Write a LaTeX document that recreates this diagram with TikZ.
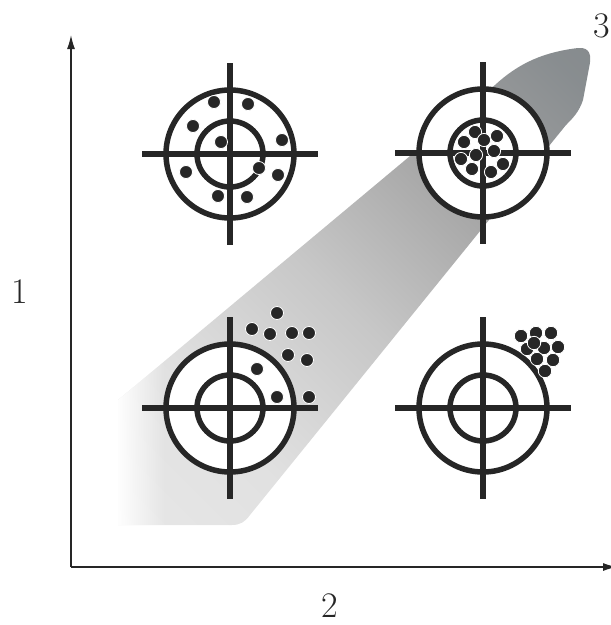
\documentclass[tikz,border=0pt]{standalone}
\usetikzlibrary{arrows.meta,fadings,calc}
\definecolor{ink}{HTML}{262626}
\definecolor{banddark}{HTML}{7E8386}
\pgfdeclarehorizontalshading{bandshade}{100bp}{color(0bp)=(white!93!black); color(30bp)=(white!88!black); color(48bp)=(white!78!black); color(66bp)=(white!64!black); color(82bp)=(banddark!92!white); color(100bp)=(banddark)}
\tikzset{
  ring/.style={draw=ink, line width=5.5pt},
  hair/.style={draw=ink, line width=5.5pt},
  shot/.style={fill=ink, draw=white, line width=0.8pt},
  axis/.style={draw=ink, line width=1.3pt},
  lbl/.style={font=\fontsize{36}{40}\selectfont, text=ink, inner sep=0pt}
}
\newcommand{\target}[2]{%
  \fill[white] (#1,#2) circle (64);
  \draw[ring] (#1,#2) circle (64);
  \draw[ring] (#1,#2) circle (33);
  \draw[hair] ($(#1,#2)+(-88,0)$) -- ($(#1,#2)+(88,0)$);
  \draw[hair] ($(#1,#2)+(0,-91)$) -- ($(#1,#2)+(0,91)$);
}
\begin{document}
\begin{tikzpicture}[x=1pt,y=-1pt]
\useasboundingbox (0,0) rectangle (611,625);
% band
\path[shading=bandshade, shading angle=45]
 (118,400) -- (495,85) .. controls (520,62) and (545,52) .. (578,48)
 .. controls (590,47) and (592,55) .. (589,68) -- (583,100)
 .. controls (579,112) and (573,118) .. (566,125) -- (250,515)
 .. controls (245,522) and (240,525) .. (232,525) -- (118,525) -- cycle;
\begin{scope}
\clip (118,400) -- (495,85) -- (566,125) -- (250,515) -- (232,525) -- (118,525) -- cycle;
\fill[white, path fading=east] (116,340) rectangle (165,530);
\end{scope}
% axes
\coordinate (o) at (71,567);
\coordinate (ytip) at (71,35);
\coordinate (xtip) at (617,567);
\draw[axis, -{Latex[length=14pt,width=8pt]}] (o) -- (ytip);
\draw[axis, -{Latex[length=14pt,width=8pt]}] (o) -- (xtip);
% targets
\target{230}{154}
\target{483}{153}
\target{230}{408}
\target{483}{408}
% shots target 1
\foreach \p in {(214,102),(248,104),(193,126),(282,140),(221,142),(259,168),(186,172),(278,175),(218,196),(247,197)}
  \path[shot] \p circle (6.5);
% shots target 2
\foreach \p in {(475,132),(497,136),(464,142),(484,140),(494,151),(476,155),(461,159),(503,164),(472,169),(491,172)}
  \path[shot] \p circle (6.6);
% shots target 3
\foreach \p in {(277,313),(252,329),(270,334),(292,333),(309,333),(288,355),(307,360),(257,369),(277,397),(309,397)}
  \path[shot] \p circle (6.5);
% shots target 4
\foreach \p in {(521,336),(536,333),(551,333),(558,347),(544,348),(527,349),(534,343),(537,359),(553,360),(545,371)}
  \path[shot] \p circle (6.7);
% labels
\node[lbl] (l1) at (20,292) {1};
\node[lbl] (l2) at (330,606) {2};
\node[lbl] (l3) at (602,26) {3};
\end{tikzpicture}
\end{document}
